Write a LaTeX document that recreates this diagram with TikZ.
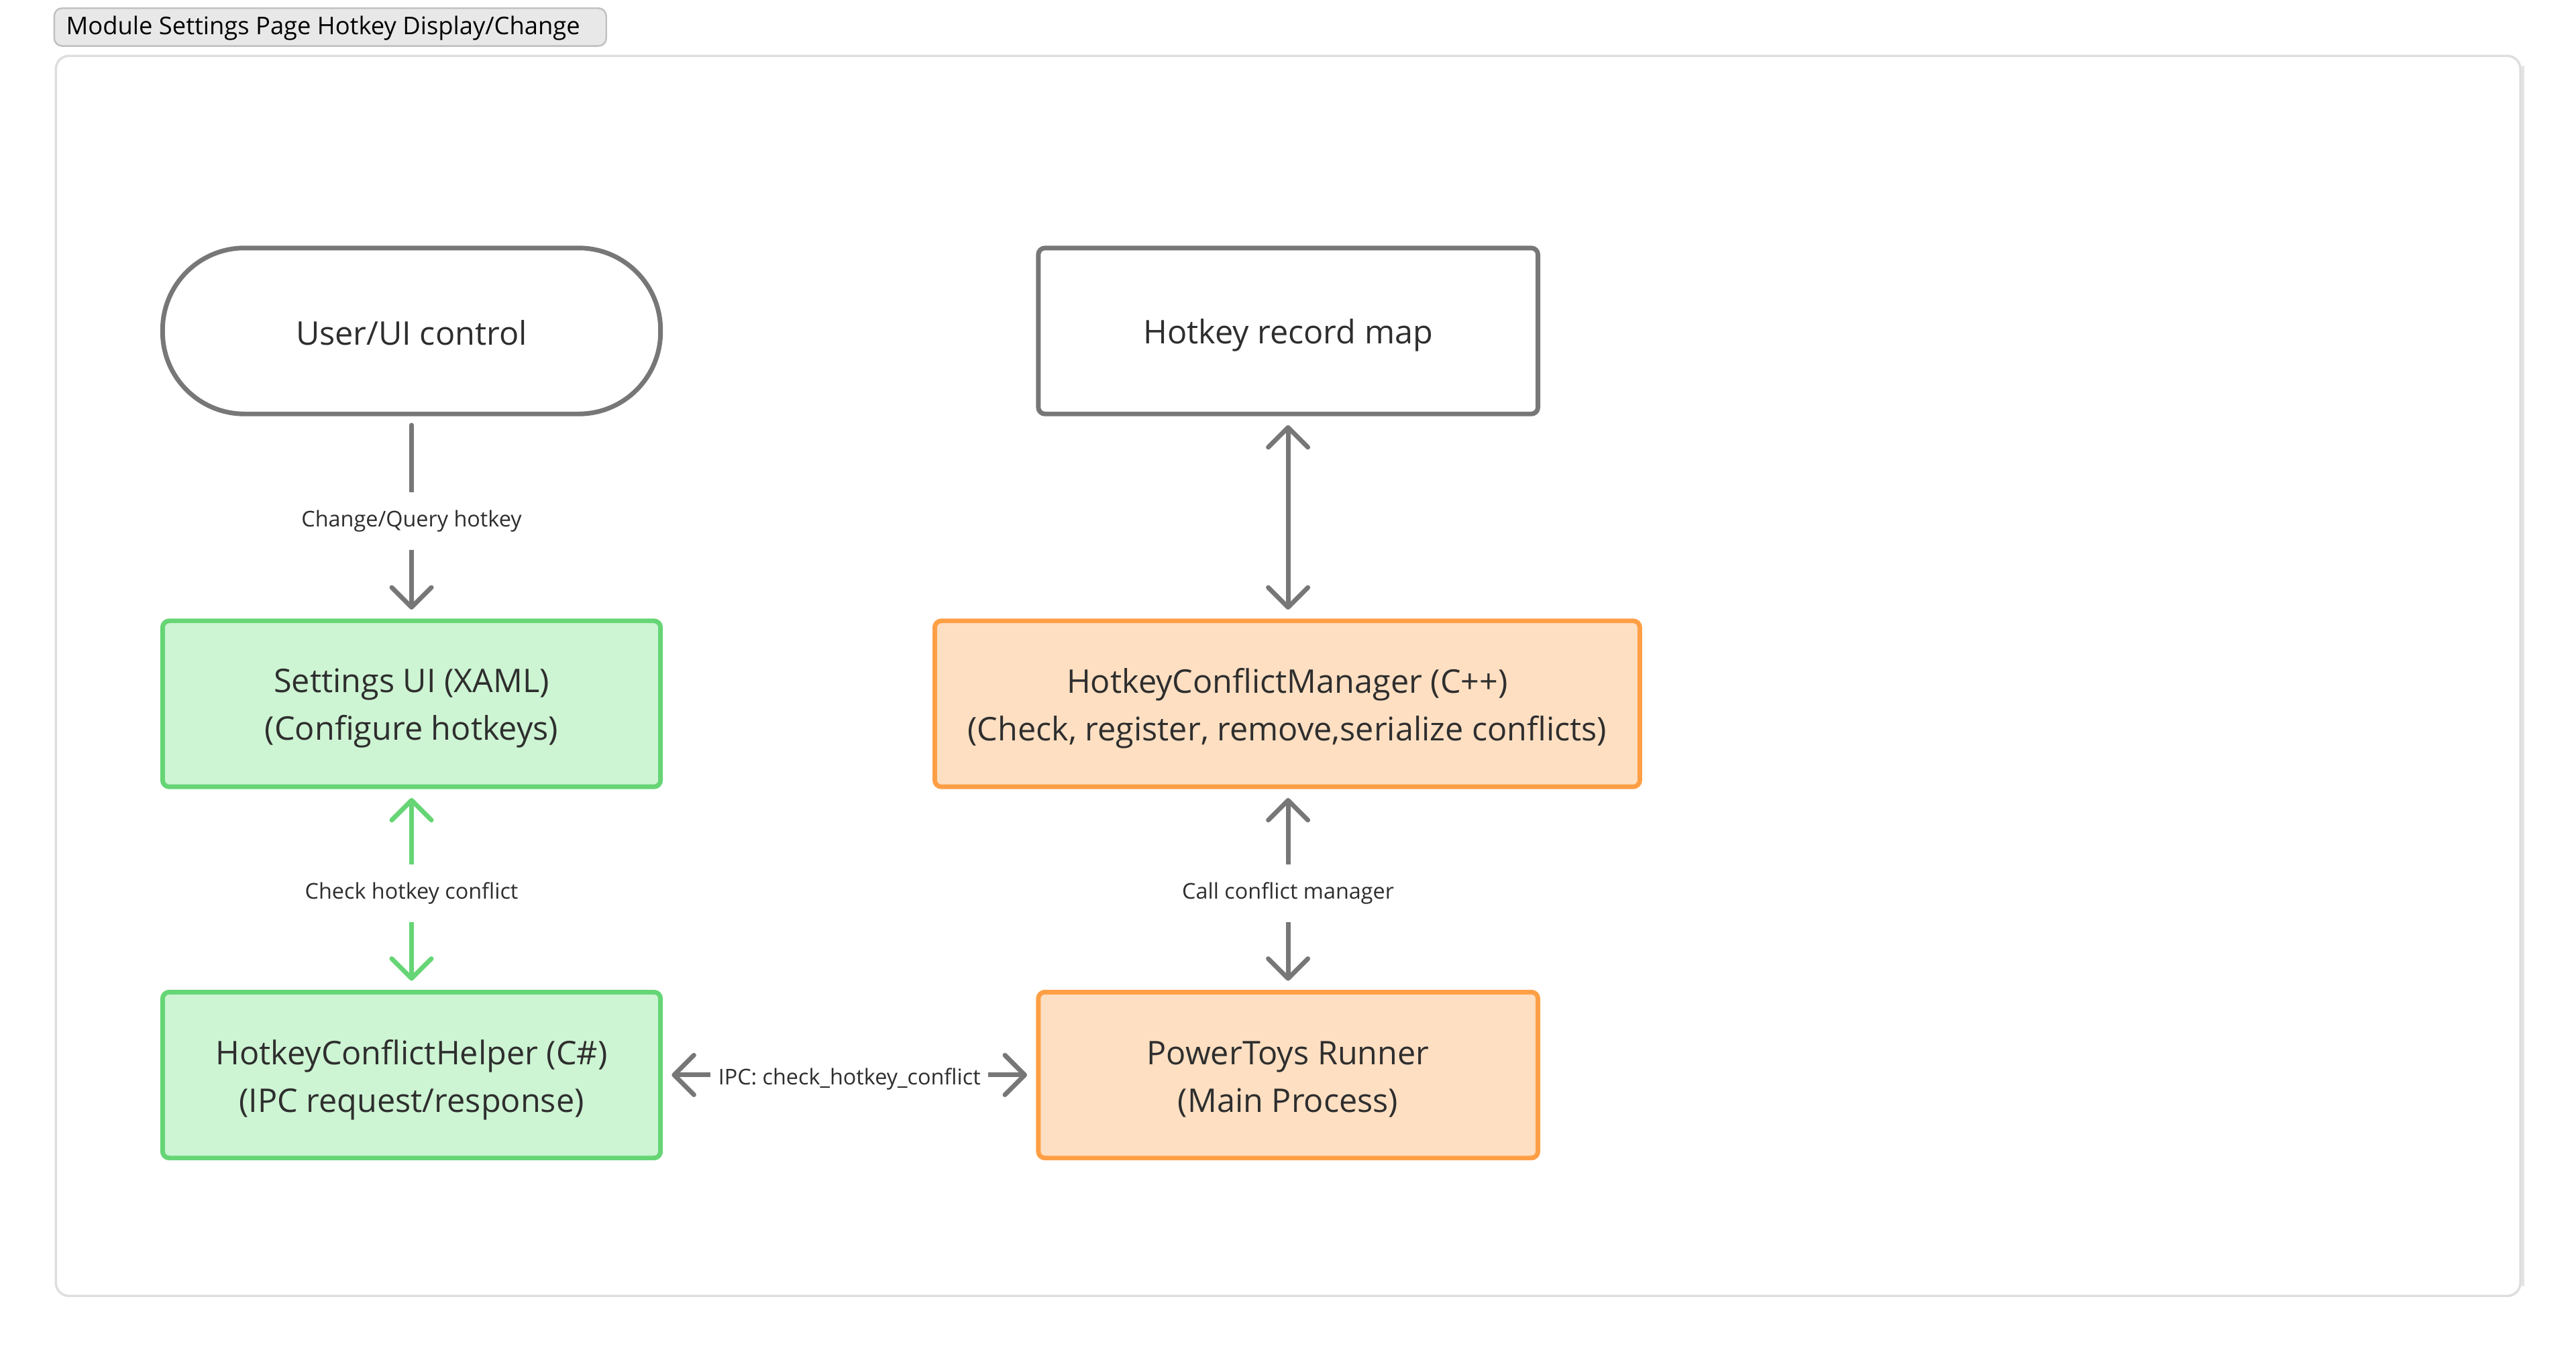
\documentclass[tikz,border=0pt]{standalone}
\usepackage{fontspec}
\setmainfont{Open Sans}
\usetikzlibrary{arrows.meta}
\definecolor{edgegray}{HTML}{777777}
\definecolor{txt}{HTML}{2E2E2E}
\definecolor{gfill}{HTML}{CDF4D3}
\definecolor{gline}{HTML}{66D575}
\definecolor{ofill}{HTML}{FEDFC2}
\definecolor{oline}{HTML}{FF9F45}
\definecolor{framegray}{HTML}{DEDEDE}
\definecolor{tabfill}{HTML}{E8E8E8}
\definecolor{tabline}{HTML}{C0C0C0}
\tikzset{
  box/.style={draw, line width=2pt, inner sep=0pt, outer sep=0pt,
    minimum height=2.525cm},
  boxtext/.style={align=center, text=txt, inner sep=0pt,
    font=\fontsize{14.1}{20.6}\selectfont},
  graybox/.style={box, draw=edgegray, fill=white},
  greenbox/.style={box, draw=gline, fill=gfill, rounded corners=0.1cm},
  orangebox/.style={box, draw=oline, fill=ofill, rounded corners=0.1cm},
  conn/.style={line width=2pt, draw=edgegray, line cap=round,
    shorten >=0.17cm, shorten <=0.17cm},
  gconn/.style={conn, draw=gline},
  tipboth/.style={{Straight Barb[length=0.3cm,width=0.6cm,round]}-{Straight Barb[length=0.3cm,width=0.6cm,round]}},
  tipend/.style={-{Straight Barb[length=0.3cm,width=0.6cm,round]}},
  lbl/.style={fill=white, text=txt, font=\fontsize{9.4}{11}\selectfont, inner xsep=0.12cm,
    minimum height=0.875cm, yshift=-0.06cm},
}
\begin{document}
\begin{tikzpicture}[x=0.025cm,y=-0.025cm]
\useasboundingbox (0,0) rectangle (1560,819);
\begin{scope}[scale=0.995, transform shape]
% outer frame
\draw[framegray, line width=1pt, rounded corners=0.2cm] (34,34) rectangle (1534,789);
\draw[framegray!80, line width=1.2pt] (1535.5,40) -- (1535.5,783);
% title tab
\node[draw=tabline, fill=tabfill, line width=0.7pt, rounded corners=0.12cm,
  minimum width=336*0.025cm, minimum height=23*0.025cm, inner sep=0pt] (tab) at (201,16.5) {};
\node[anchor=west, text=black, font=\fontsize{10.55}{12}\selectfont, inner sep=0pt] (tabtext) at (40,17) {Module Settings Page Hotkey Display/Change};
% nodes
\node[graybox, rounded corners=1.24cm, minimum width=7.575cm,
  label={[boxtext, yshift=-0.03cm]center:User/UI control}] (user) at (250.5,201.5) {};
\node[graybox, rounded corners=0.1cm, minimum width=7.6cm,
  label={[boxtext, yshift=-0.07cm]center:Hotkey record map}] (map) at (784,201.5) {};
\node[greenbox, minimum width=7.575cm,
  label={[boxtext, yshift=-0.07cm]center:{Settings UI (XAML)\\(Configure hotkeys)}}] (settings) at (250.5,428.5) {};
\node[orangebox, minimum width=10.725cm,
  label={[boxtext, yshift=-0.07cm]center:{HotkeyConflictManager (C++)\\(Check, register, remove,serialize conflicts)}}] (manager) at (783.5,428.5) {};
\node[greenbox, minimum width=7.575cm,
  label={[boxtext, yshift=-0.07cm]center:{HotkeyConflictHelper (C\#)\\(IPC request/response)}}] (helper) at (250.5,654.5) {};
\node[orangebox, minimum width=7.6cm,
  label={[boxtext, yshift=-0.07cm]center:{PowerToys Runner\\(Main Process)}}] (runner) at (784,654.5) {};
% connectors
\draw[conn, tipend] (user.south) -- node[lbl] (l1) {Change/Query hotkey} (settings.north);
\draw[conn, tipboth] (map.south) -- (map.south |- manager.north);
\draw[gconn, tipboth] (settings.south) -- node[lbl] (l2) {Check hotkey conflict} (helper.north);
\draw[conn, tipboth] (runner.north |- manager.south) -- node[lbl] (l3) {Call conflict manager} (runner.north);
\draw[conn, tipboth] (helper.east) -- node[lbl, minimum height=0.5cm] (l4) {IPC: check\_hotkey\_conflict} (runner.west);
\end{scope}
\end{tikzpicture}
\end{document}
